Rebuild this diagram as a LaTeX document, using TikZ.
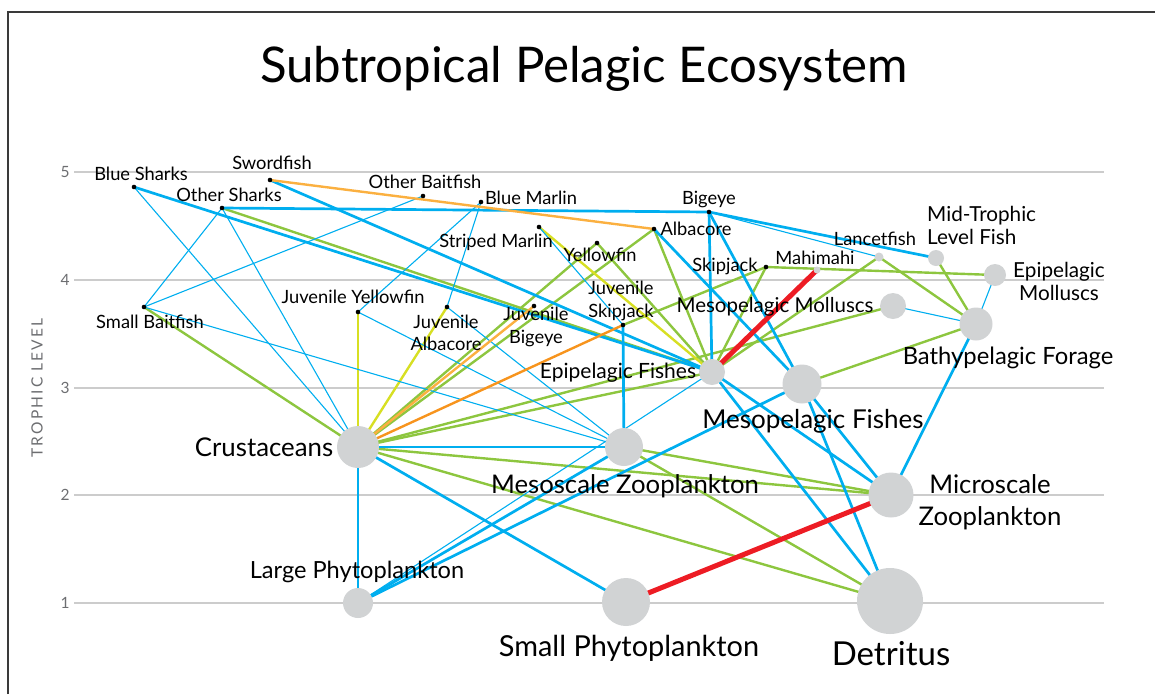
\documentclass[tikz,border=0pt]{standalone}
\usepackage{fontspec}
\setmainfont{Lato}
\definecolor{linkblue}{HTML}{00AEEF}
\definecolor{linkgreen}{HTML}{8DC63F}
\definecolor{linkyellow}{HTML}{D7DF23}
\definecolor{linkorange}{HTML}{F7941D}
\definecolor{linkpeach}{HTML}{FBB040}
\definecolor{linkred}{HTML}{ED1C24}
\definecolor{poolgray}{HTML}{D1D3D4}
\definecolor{gridgray}{HTML}{CCCCCC}
\definecolor{axisgray}{HTML}{6D6E71}
\definecolor{framegray}{HTML}{3A3A3A}
\pgfdeclarelayer{grid}
\pgfdeclarelayer{links}
\pgfsetlayers{grid,links,main}
\begin{document}
\begin{tikzpicture}[x=1pt,y=-1pt,
  species/.style={circle,fill=black,inner sep=0pt,minimum size=4.6pt},
  pool/.style={circle,fill=poolgray,inner sep=0pt,minimum size=#1},
  lbl/.style={inner sep=0pt,text=black},
  sz/.style={font=\fontsize{#1}{#1}\selectfont},
  small/.style={lbl,sz=18.3,anchor=base},
  tick/.style={inner sep=0pt,text=axisgray,font=\fontsize{15.5}{15.5}\selectfont},
  gridline/.style={draw=gridgray,line width=2pt},
  thinlink/.style={draw=linkblue,line width=1.1pt},
  thicklink/.style={draw=linkblue,line width=2.7pt},
  greenlink/.style={draw=linkgreen,line width=2.4pt},
  yellowlink/.style={draw=linkyellow,line width=2.4pt},
  peachlink/.style={draw=linkpeach,line width=2.4pt},
  orangelink/.style={draw=linkorange,line width=2.4pt},
  redlink/.style={draw=linkred,line width=5pt},
]
\useasboundingbox (0,0) rectangle (1155,694);

% frame
\draw[framegray,line width=1.3pt] (8,694) -- (8,12) -- (1155,12);

% title
\node[lbl,sz=49.2,anchor=base] (title) at (584,82) {Subtropical Pelagic Ecosystem};

% trophic level grid
\begin{pgfonlayer}{grid}
  \foreach \yy in {172,279.75,387.5,495.25,603}
    \draw[gridline] (74,\yy) -- (1104,\yy);
\end{pgfonlayer}
\node[tick] (t5) at (65,172) {5};
\node[tick] (t4) at (65,279.75) {4};
\node[tick] (t3) at (65,387.5) {3};
\node[tick] (t2) at (65,495.25) {2};
\node[tick] (t1) at (65,603) {1};
\node[inner sep=0pt,text=axisgray,rotate=90,font=\fontsize{15.5}{16}\selectfont\addfontfeature{LetterSpace=14}] (axis) at (37,388) {TROPHIC LEVEL};

% top predators and other fish (point species)
\node[species] (bluesharks) at (134,187) {};
\node[species] (swordfish) at (270,180) {};
\node[species] (othersharks) at (222,208) {};
\node[species] (otherbait) at (423,196) {};
\node[species] (bluemarlin) at (481,202) {};
\node[species] (stripedmarlin) at (539,227) {};
\node[species] (yellowfin) at (597,243) {};
\node[species] (albacore) at (654,229) {};
\node[species] (bigeye) at (709,212) {};
\node[species] (skipjack) at (766,267) {};
\node[species] (smallbait) at (144,307) {};
\node[species] (juvyellowfin) at (358,312) {};
\node[species] (juvalbacore) at (447,307) {};
\node[species] (juvbigeye) at (534,306) {};
\node[species] (juvskipjack) at (623,325) {};

% functional groups (pools)
\node[pool=7pt] (mahimahi) at (817,270) {};
\node[pool=9pt] (lancetfish) at (879,257) {};
\node[pool=16pt] (midtrophic) at (936,258) {};
\node[pool=22pt] (epimolluscs) at (995,275) {};
\node[pool=26pt] (mesomolluscs) at (893,306) {};
\node[pool=33pt] (bathy) at (976,324) {};
\node[pool=26pt] (epifishes) at (712,372) {};
\node[pool=39pt] (mesofishes) at (802,384) {};
\node[pool=42pt] (crustaceans) at (358,447) {};
\node[pool=38pt] (mesoscale) at (624,447) {};
\node[pool=45pt] (microscale) at (891,495) {};
\node[pool=30pt] (largephyto) at (358,603) {};
\node[pool=48pt] (smallphyto) at (626,602) {};
\node[pool=66pt] (detritus) at (890,601) {};

% labels
\node[small] (l-bluesharks) at (141,180) {Blue Sharks};
\node[small] (l-swordfish) at (272,169) {Swordfish};
\node[small] (l-othersharks) at (229,201) {Other Sharks};
\node[small] (l-otherbait) at (425,188) {Other Baitfish};
\node[small] (l-bluemarlin) at (531,204) {Blue Marlin};
\node[small] (l-stripedmarlin) at (496,247) {Striped Marlin};
\node[small] (l-yellowfin) at (600,261) {Yellowfin};
\node[small] (l-albacore) at (696,235) {Albacore};
\node[small] (l-bigeye) at (709,204) {Bigeye};
\node[small] (l-skipjack) at (725,271) {Skipjack};
\node[small] (l-mahimahi) at (815,264) {Mahimahi};
\node[small] (l-lancetfish) at (875,245) {Lancetfish};
\node[small] (l-smallbait) at (150,328) {Small Baitfish};
\node[small] (l-juvyellowfin) at (353,303) {Juvenile Yellowfin};
\node[lbl,font=\fontsize{18.3}{21.5}\selectfont,align=center] (l-juvalbacore) at (446,333) {Juvenile\\Albacore};
\node[lbl,font=\fontsize{18.3}{23.5}\selectfont,align=center] (l-juvbigeye) at (536,327) {Juvenile\\Bigeye};
\node[lbl,font=\fontsize{18.3}{23}\selectfont,align=center] (l-juvskipjack) at (621,301) {Juvenile\\Skipjack};
\node[lbl,font=\fontsize{20.7}{23}\selectfont,align=left,anchor=west] (l-midtrophic) at (927,225) {Mid-Trophic\\Level Fish};
\node[lbl,font=\fontsize{20.7}{23}\selectfont,align=center] (l-epimolluscs) at (1059,281) {Epipelagic\\Molluscs};
\node[lbl,sz=20.5,anchor=base] (l-mesomolluscs) at (775,312) {Mesopelagic Molluscs};
\node[lbl,sz=21,anchor=base] (l-epifishes) at (618,378) {Epipelagic Fishes};
\node[lbl,sz=23.8,anchor=base] (l-bathy) at (1008,364) {Bathypelagic Forage};
\node[lbl,sz=26,anchor=base] (l-mesofishes) at (813,428) {Mesopelagic Fishes};
\node[lbl,sz=25.8,anchor=base] (l-crustaceans) at (264,456) {Crustaceans};
\node[lbl,sz=25.7,anchor=base] (l-mesoscale) at (625,493) {Mesoscale Zooplankton};
\node[lbl,font=\fontsize{25.7}{32}\selectfont,align=center] (l-microscale) at (990,502) {Microscale\\Zooplankton};
\node[lbl,sz=23.6,anchor=base] (l-largephyto) at (357,578) {Large Phytoplankton};
\node[lbl,sz=28.9,anchor=base] (l-smallphyto) at (629,656) {Small Phytoplankton};
\node[lbl,sz=33,anchor=base] (l-detritus) at (891,665) {Detritus};

% feeding links
\begin{pgfonlayer}{links}
  % green links
  \draw[greenlink] (othersharks.center) -- (epifishes.center);
  \draw[greenlink] (smallbait.center) -- (crustaceans.center);
  \draw[greenlink] (yellowfin.center) -- (crustaceans.center);
  \draw[greenlink] (yellowfin.center) -- (epifishes.center);
  \draw[greenlink] (albacore.center) -- (crustaceans.center);
  \draw[greenlink] (albacore.center) -- (epifishes.center);
  \draw[greenlink] (skipjack.center) -- (epifishes.center);
  \draw[greenlink] (skipjack.center) -- (epimolluscs.center);
  \draw[greenlink] (skipjack.center) -- (juvskipjack.center);
  \draw[greenlink] (lancetfish.center) -- (epifishes.center);
  \draw[greenlink] (lancetfish.center) -- (bathy.center);
  \draw[greenlink] (midtrophic.center) -- (bathy.center);
  \draw[greenlink] (mesomolluscs.center) -- (crustaceans.center);
  \draw[greenlink] (mesofishes.center) -- (bathy.center);
  \draw[greenlink] (crustaceans.center) -- (epifishes.center);
  \draw[greenlink] (crustaceans.center) -- (microscale.center);
  \draw[greenlink] (crustaceans.center) -- (detritus.center);
  \draw[greenlink] (mesoscale.center) -- (microscale.center);
  \draw[greenlink] (mesoscale.center) -- (detritus.center);
  % yellow links
  \draw[yellowlink] (juvyellowfin.center) -- (crustaceans.center);
  \draw[yellowlink] (juvalbacore.center) -- (crustaceans.center);
  \draw[yellowlink] (stripedmarlin.center) -- (epifishes.center);
  % thin blue links
  \draw[thinlink] (bluesharks.center) -- (crustaceans.center);
  \draw[thinlink] (othersharks.center) -- (crustaceans.center);
  \draw[thinlink] (othersharks.center) -- (smallbait.center);
  \draw[thinlink] (smallbait.center) -- (otherbait.center);
  \draw[thinlink] (smallbait.center) -- (mesoscale.center);
  \draw[thinlink] (juvyellowfin.center) -- (bluemarlin.center);
  \draw[thinlink] (juvyellowfin.center) -- (mesoscale.center);
  \draw[thinlink] (bluemarlin.center) -- (juvalbacore.center);
  \draw[thinlink] (juvalbacore.center) -- (mesoscale.center);
  \draw[thinlink] (stripedmarlin.center) -- (juvskipjack.center);
  \draw[thinlink] (bigeye.center) -- (lancetfish.center);
  \draw[thinlink] (epimolluscs.center) -- (bathy.center);
  \draw[thinlink] (mesomolluscs.center) -- (bathy.center);
  \draw[thinlink] (largephyto.center) -- (crustaceans.center);
  \draw[thinlink] (largephyto.center) -- (epifishes.center);
  % thick blue links
  \draw[thicklink] (bluesharks.center) -- (epifishes.center);
  \draw[thicklink] (swordfish.center) -- (epifishes.center);
  \draw[thicklink] (othersharks.center) -- (bigeye.center);
  \draw[thicklink] (bigeye.center) -- (midtrophic.center);
  \draw[thicklink] (bigeye.center) -- (epifishes.center);
  \draw[thicklink] (bigeye.center) -- (mesofishes.center);
  \draw[thicklink] (albacore.center) -- (mesofishes.center);
  \draw[thicklink] (juvskipjack.center) -- (mesoscale.center);
  \draw[thicklink] (crustaceans.center) -- (mesoscale.center);
  \draw[thicklink] (crustaceans.center) -- (smallphyto.center);
  \draw[thicklink] (largephyto.center) -- (mesoscale.center);
  \draw[thicklink] (largephyto.center) -- (mesofishes.center);
  \draw[thicklink] (epifishes.center) -- (microscale.center);
  \draw[thicklink] (epifishes.center) -- (detritus.center);
  \draw[thicklink] (mesofishes.center) -- (microscale.center);
  \draw[thicklink] (mesofishes.center) -- (detritus.center);
  \draw[thicklink] (bathy.center) -- (microscale.center);
  % orange links
  \draw[peachlink] (swordfish.center) -- (albacore.center);
  \draw[peachlink] (juvbigeye.center) -- (crustaceans.center);
  \draw[orangelink] (juvskipjack.center) -- (crustaceans.center);
  % red links
  \draw[redlink] (mahimahi.center) -- (epifishes.center);
  \draw[redlink] (smallphyto.center) -- (microscale.center);
\end{pgfonlayer}
\end{tikzpicture}
\end{document}
